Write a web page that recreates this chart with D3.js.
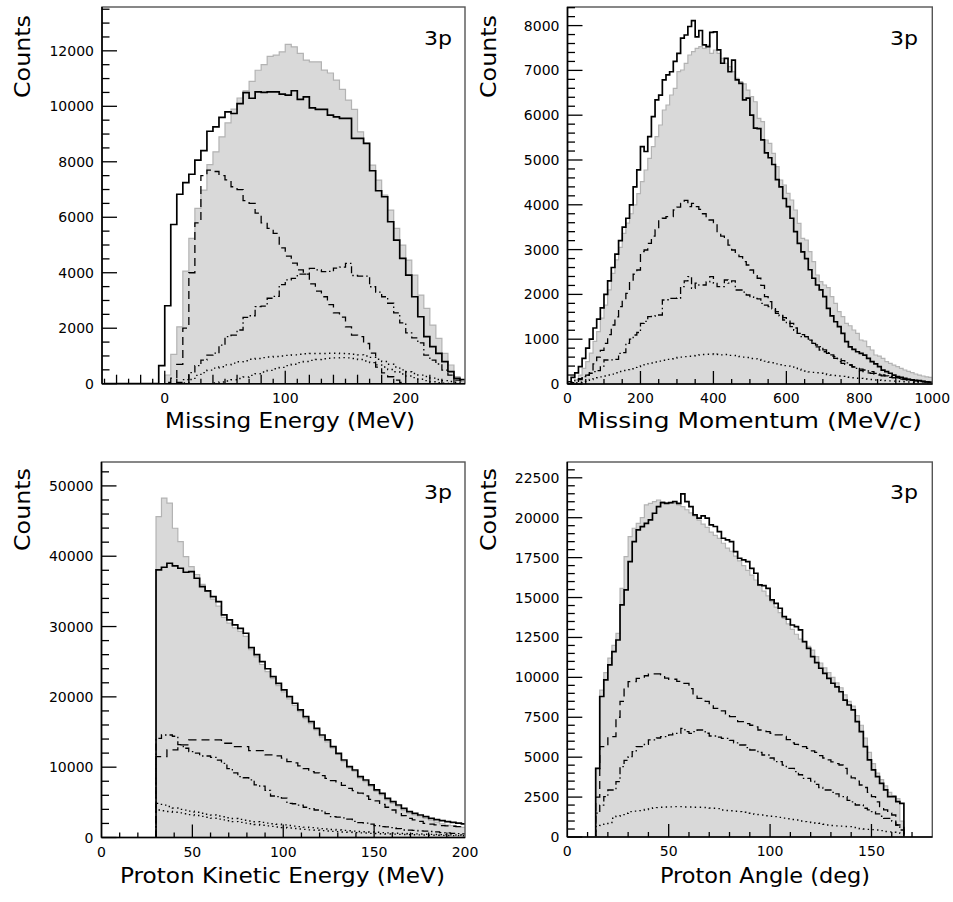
<!DOCTYPE html>
<html><head><meta charset="utf-8">
<script src="https://cdn.jsdelivr.net/npm/d3@7"></script>
<style>body{margin:0;background:#fff}svg{display:block}</style>
</head><body><svg id="c" width="953" height="902"></svg>
<script>
// ---------------- Panel 1: Missing Energy (MeV), bins of 5 from -50 ----------------
const p1Start = -50, p1Step = 5;
const p1Data = [0,0,0,0,0,0,0,0,0,0,
  313,1060,2050,4060,5240,6320,6980,7900,8360,8900,
  9400,9900,10300,10560,10900,11300,11500,11800,11845,11964,
  12230,12144,11906,11665,11604,11604,11304,11200,10944,10609,
  10223,9888,9081,8663,7881,7341,6800,6259,5600,4998,
  4458,3917,3196,2717,2115,1636,1095,674,252,72];
const p1Sim = [0,0,0,0,0,0,0,0,0,650,
  2810,5740,6830,7250,7550,8060,8400,9100,9260,9600,
  9800,9740,10100,10490,10290,10520,10500,10520,10523,10440,
  10404,10560,10248,10342,9946,9886,9886,9683,9622,9563,
  9563,8843,8843,8663,7676,6955,6739,5838,5178,4518,
  3917,3135,2414,1694,1333,1095,794,432,194,150];
const p1Dash = [0,0,0,0,0,0,0,0,0,0,
  50,200,700,2000,4000,5800,7500,7700,7650,7500,
  7350,7100,7000,6600,6500,6150,5800,5600,5420,4900,
  4600,4350,4100,3950,3600,3340,3135,2850,2550,2400,
  2050,1750,1700,1450,1100,600,390,250,130,50,
  0,0,0,0,0,0,0,0,0,0];
const p1DashDot = [0,0,0,0,0,0,0,0,0,0,
  0,0,50,150,400,650,850,1030,1100,1390,
  1700,1750,1935,2390,2450,2775,2800,3080,3150,3570,
  3740,3800,3950,3950,4160,4100,4040,4050,4170,4200,
  4340,3900,3880,3880,3495,3300,3135,2900,2550,2190,
  1830,1650,1470,1030,850,710,490,310,130,100];
const p1Dot = [0,0,0,0,0,0,0,0,0,0,
  0,0,0,30,150,300,400,490,560,610,
  680,740,790,830,880,910,940,960,980,1000,
  1020,1040,1060,1080,1090,1090,1090,1100,1100,1090,
  1080,1060,1040,1000,950,880,800,700,600,500,
  430,370,310,260,200,150,110,80,50,30];
const p1Dot2 = [0,0,0,0,0,0,0,0,0,0,
  0,0,0,0,0,0,0,0,30,60,
  100,140,190,240,300,360,420,480,540,590,
  650,700,760,800,840,870,900,920,930,940,
  930,910,870,820,760,680,600,510,430,350,
  280,220,160,110,70,40,20,0,0,0];
const p1YTicks = [0,2000,4000,6000,8000,10000,12000];
const p1XTicks = [0,100,200];

// ---------------- Panel 2: Missing Momentum (MeV/c), bins of 10 from 0 ----------------
const p2Start = 0, p2Step = 10;
const p2Data = [0,30,90,200,350,500,690,950,1170,1470,
  1760,2100,2470,2770,3050,3360,3590,3800,4000,4250,
  4516,4777,5037,5298,5521,5781,6116,6228,6451,6600,
  6972,7009,7158,7344,7418,7493,7530,7490,7567,7381,
  7455,7381,7269,7158,7083,6972,6823,6748,6700,6560,
  6413,6300,5930,5855,5446,5372,5149,4851,4554,4442,
  4256,4107,3884,3586,3252,3214,2954,2731,2433,2284,
  2210,2150,1949,1801,1615,1503,1354,1300,1205,1131,
  982,960,833,759,647,620,573,499,461,420,
  387,350,312,280,253,223,200,179,160,149];
const p2Sim = [50,150,250,390,570,800,1000,1250,1450,1700,
  2000,2300,2600,2900,3200,3500,3700,4000,4400,4780,
  5300,5190,5520,5970,6340,6450,6790,6900,6970,7200,
  7380,7720,7790,7980,8110,7750,7890,7570,7530,7850,
  7860,7460,7160,7270,6970,7230,6790,6710,6340,6380,
  6000,5710,5700,5450,5160,5050,4900,4560,4400,4140,
  3960,3700,3400,3140,2950,2800,2550,2360,2210,2100,
  1950,1690,1520,1390,1280,1130,945,830,775,720,
  685,645,570,500,450,390,310,275,240,200,
  165,150,125,105,90,80,75,60,50,40];
const p2Dash = [10,30,60,100,150,200,300,450,600,750,
  908,1100,1317,1500,1726,1880,2024,2321,2450,2545,
  2954,2991,3140,3300,3437,3661,3700,3735,3735,3884,
  3950,4033,4100,3958,4033,3958,3900,3800,3661,3661,
  3600,3363,3300,3214,3100,2991,2900,2842,2731,2656,
  2545,2420,2360,2200,1949,1838,1700,1577,1550,1481,
  1420,1354,1250,1131,1100,1057,980,908,830,759,
  720,685,620,573,500,461,440,424,380,350,
  300,275,250,238,220,201,180,164,150,140,
  126,110,100,89,80,70,60,50,40,30];
const p2DashDot = [0,40,80,120,164,200,240,275,300,400,
  536,536,540,550,685,700,908,1000,1094,1150,
  1354,1400,1503,1510,1540,1540,1875,1880,1912,1912,
  1920,2173,2300,2396,2135,2250,2210,2210,2280,2396,
  2247,2173,2173,2321,2250,2300,2098,2098,2050,1987,
  1950,1912,1900,1801,1760,1726,1680,1615,1520,1429,
  1350,1280,1200,1131,1057,1057,1000,908,870,833,
  760,699,650,610,560,521,470,424,390,350,
  330,312,290,275,238,220,201,180,164,150,
  140,126,110,100,89,80,70,60,50,40];
const p2Dot = [10,20,30,40,60,80,100,120,140,160,
  180,200,220,250,280,300,320,340,370,390,
  410,430,450,470,490,510,530,550,565,580,
  590,600,610,620,630,640,650,660,665,670,
  660,665,650,660,640,640,620,610,600,590,
  570,560,550,530,510,490,476,450,430,410,
  400,380,350,330,310,290,270,260,250,240,
  230,210,200,190,180,170,160,150,140,130,
  125,120,110,100,90,85,80,75,70,65,
  60,55,50,45,40,35,30,25,20,15];
const p2YTicks = [0,1000,2000,3000,4000,5000,6000,7000,8000];
const p2XTicks = [0,200,400,600,800,1000];

// ---------------- Panel 3: Proton Kinetic Energy (MeV), bins of 3 from 30 ----------------
const p3Start = 30, p3Step = 3;
const p3Data = [45630,48250,47540,43980,42080,39940,38520,37400,36000,35000,
  33900,32900,31300,30500,29800,29300,28600,26700,25700,24600,
  23600,22600,21600,20700,19700,18800,17900,16900,16200,15300,
  14300,13600,12700,11800,10800,9900,9400,8450,7950,7250,
  6550,6050,5350,4850,4400,3900,3450,3200,2950,2700,
  2450,2200,1950,1750,1700,1550,1450];
const p3Sim = [38050,38430,39000,38620,38290,37720,37810,36870,35680,35060,
  34250,33540,31650,30940,30230,29750,29050,27000,26000,25000,
  24000,22880,21930,20980,20030,19090,18140,17190,16480,15530,
  14580,13870,12920,11970,11020,10070,9600,8650,8180,7470,
  6760,6280,5570,5100,4620,4150,3670,3440,3200,2960,
  2730,2550,2400,2250,2150,2050,1950];
const p3Dash = [11500,11500,12450,12450,13160,13160,13870,13870,13870,13870,
  13870,13870,13400,13400,12920,12920,12920,12350,12350,12350,
  11740,11740,11600,11300,10790,10600,10200,9800,9370,9200,
  8800,8400,8090,7900,7400,7000,6660,6300,5900,5430,
  5200,4700,4300,3910,3500,3100,2730,2500,2300,2020,
  1900,1800,1700,1650,1600,1550,1500];
const p3DashDot = [14100,14580,14580,14400,13200,12690,12210,12000,11590,11590,
  11400,11000,10550,9800,9200,8650,8500,8200,7470,7300,
  6700,5900,5800,5600,4860,4800,4600,4300,4100,3910,
  3800,3400,2960,2900,2800,2600,2300,2110,2050,1900,
  1700,1540,1500,1400,1250,1070,1050,1000,950,900,
  850,800,690,650,600,560,520];
const p3Dot = [4860,4600,4400,4200,4000,3900,3750,3600,3450,3300,
  3200,3050,2950,2800,2700,2580,2450,2350,2250,2150,
  2050,1950,1880,1800,1700,1620,1550,1480,1400,1330,
  1260,1200,1130,1070,1010,960,910,860,820,780,
  740,700,660,630,600,570,540,510,490,470,
  450,430,410,390,370,350,330];
const p3Dot2 = [3910,3800,3700,3600,3500,3380,3250,3120,3000,2880,
  2750,2620,2500,2380,2260,2150,2050,1950,1850,1750,
  1660,1580,1500,1420,1350,1280,1210,1150,1090,1030,
  980,920,870,830,780,740,700,660,630,590,
  560,530,500,480,450,430,410,390,370,350,
  330,310,300,290,270,260,250];
const p3YTicks = [0,10000,20000,30000,40000,50000];
const p3XTicks = [0,50,100,150,200];

// ---------------- Panel 4: Proton Angle (deg), bins of 2 from 14 ----------------
const p4Start = 14, p4Step = 2;
const p4Data = [4300,9200,10300,11200,12000,12760,15580,17560,18820,19340,
  19650,20000,20800,20900,21010,21110,21000,20950,20900,20900,
  20800,20700,20500,20300,20100,19850,19600,19400,19100,18900,
  18700,18400,18100,17900,17600,17300,17000,16700,16400,16100,
  15750,15400,15100,14750,14400,14050,13700,13350,13000,12700,
  12400,12200,11950,11700,11300,10900,10600,10300,10000,9650,
  9350,8900,8500,8200,7600,7000,6200,5300,4600,4000,
  3600,3200,2800,2600,2400,1000];
const p4Sim = [4300,8800,9840,10780,11610,12340,14540,15480,17250,18500,
  19240,19440,19650,19860,20280,20700,20950,20900,20950,21010,
  20900,21490,21010,20700,20175,19970,20110,19970,19550,19450,
  19130,18715,18610,18500,17880,17460,17360,17250,16830,16520,
  15790,15750,15580,14850,14640,14330,13800,13640,13280,13180,
  12970,12240,11820,11300,10920,10570,10250,9940,9630,9400,
  9100,8580,8270,7960,7230,6600,5660,4830,4200,3780,
  3360,2950,2530,2530,2210,2110];
const p4Dash = [2500,5660,5660,6286,6290,7500,8500,9400,9733,9733,
  9940,9940,10100,10213,10213,10213,10150,9950,9880,9880,
  9750,9628,9628,9300,8900,8688,8688,8500,8300,8061,
  8061,7900,7700,7540,7540,7226,7226,7100,7000,6900,
  6704,6704,6600,6500,6391,6391,6300,6100,5900,5800,
  5700,5660,5550,5400,5300,5100,4950,4825,4700,4600,
  4511,4300,3885,3700,3500,3258,3100,2800,2527,2200,
  1900,1700,1500,1378,752,439];
const p4DashDot = [1500,2000,2527,2945,2945,3466,4406,4800,5033,5347,
  5660,5660,5800,6078,6078,6200,6286,6286,6400,6495,
  6495,6808,6600,6495,6600,6704,6704,6500,6328,6328,
  6250,6182,6182,6050,5900,5764,5764,5600,5451,5451,
  5300,5138,5138,4950,4720,4720,4500,4302,4302,4100,
  3900,3675,3675,3500,3300,3100,2945,2945,2800,2700,
  2527,2527,2300,2200,2005,2005,1800,1700,1587,1450,
  1300,1170,1170,1000,752,600];
const p4Dot = [650,720,800,900,1170,1300,1400,1485,1587,1620,
  1650,1690,1720,1800,1820,1840,1860,1880,1890,1900,
  1900,1900,1880,1880,1860,1860,1850,1840,1820,1800,
  1780,1690,1660,1640,1610,1587,1550,1485,1450,1420,
  1400,1378,1330,1300,1274,1230,1180,1140,1100,1065,
  1000,960,930,900,880,857,800,752,720,700,
  680,660,650,600,540,520,500,480,460,440,
  400,340,320,300,260,230];
const p4YTicks = [0,2500,5000,7500,10000,12500,15000,17500,20000,22500];
const p4XTicks = [0,50,100,150];

// ---------------- drawing ----------------
const svg = d3.select('#c');
svg.append('rect').attr('width',953).attr('height',902).attr('fill','#fff');
const FONT = "'DejaVu Sans', sans-serif";

const panels = [
  {id:1, x0:102, x1:465, sx0:104.5, sx1:466, y0:7, y1:383.7, xDomain:[-50,250], yMax:13580,
   start:p1Start, step:p1Step, data:p1Data, sim:p1Sim, dash:p1Dash, dashdot:p1DashDot, dots:[p1Dot,p1Dot2],
   yTicks:p1YTicks, yMinor:500, xTicks:p1XTicks, xMinor:10, xMid:20,
   title:'Missing Energy (MeV)', titleX:290, titleY:428, titleLen:250, countsX:30, countsY:15, tagX:424, tagY:45},
  {id:2, x0:567.5, x1:932.3, y0:7, y1:384, xDomain:[0,1000], yMax:8415,
   start:p2Start, step:p2Step, data:p2Data, sim:p2Sim, dash:p2Dash, dashdot:p2DashDot, dots:[p2Dot],
   yTicks:p2YTicks, yMinor:200, xTicks:p2XTicks, xMinor:50, xMid:200,
   title:'Missing Momentum (MeV/c)', titleX:749.5, titleY:428, titleLen:345, countsX:496, countsY:15, tagX:890, tagY:45},
  {id:3, x0:101.5, x1:465, y0:462, y1:837.5, xDomain:[0,200], yMax:53400,
   start:p3Start, step:p3Step, data:p3Data, sim:p3Sim, dash:p3Dash, dashdot:p3DashDot, dots:[p3Dot,p3Dot2],
   yTicks:p3YTicks, yMinor:2000, xTicks:p3XTicks, xMinor:10, xMid:50,
   title:'Proton Kinetic Energy (MeV)', titleX:282.5, titleY:883, titleLen:325, countsX:30, countsY:468, tagX:424, tagY:499},
  {id:4, x0:567.3, x1:932.3, y0:462, y1:837, xDomain:[0,180], yMax:23490,
   start:p4Start, step:p4Step, data:p4Data, sim:p4Sim, dash:p4Dash, dashdot:p4DashDot, dots:[p4Dot],
   yTicks:p4YTicks, yMinor:500, xTicks:p4XTicks, xMinor:10, xMid:50,
   title:'Proton Angle (deg)', titleX:765, titleY:883, titleLen:210, countsX:496, countsY:468, tagX:890, tagY:499}
];

panels.forEach(cfg => {
  const x = d3.scaleLinear().domain(cfg.xDomain).range([cfg.sx0 ?? cfg.x0, cfg.sx1 ?? cfg.x1]);
  const y = d3.scaleLinear().domain([0, cfg.yMax]).range([cfg.y1, cfg.y0]);
  const g = svg.append('g');
  const clipId = 'clip' + cfg.id;
  g.append('clipPath').attr('id', clipId).append('rect')
    .attr('x', cfg.x0).attr('y', cfg.y0).attr('width', cfg.x1 - cfg.x0).attr('height', cfg.y1 - cfg.y0);
  const plot = g.append('g').attr('clip-path', `url(#${clipId})`);

  const pts = vals => {
    const p = [[cfg.start, 0]];
    vals.forEach((v, i) => p.push([cfg.start + i * cfg.step, v]));
    const end = cfg.start + vals.length * cfg.step;
    p.push([end, vals[vals.length - 1]]);
    p.push([end, 0]);
    return p;
  };
  const line = d3.line().curve(d3.curveStepAfter).x(d => x(d[0])).y(d => y(d[1]));
  const area = d3.area().curve(d3.curveStepAfter).x(d => x(d[0])).y0(y(0)).y1(d => y(d[1]));

  plot.append('path').attr('d', area(pts(cfg.data))).attr('fill', '#d9d9d9');
  plot.append('path').attr('d', line(pts(cfg.data))).attr('fill', 'none').attr('stroke', '#b3b3b3').attr('stroke-width', 1.2);

  cfg.dots.forEach(arr => {
    plot.append('path').attr('d', line(pts(arr))).attr('fill', 'none').attr('stroke', '#000')
      .attr('stroke-width', 1.4).attr('stroke-dasharray', '1.4,3.6');
  });
  plot.append('path').attr('d', line(pts(cfg.dashdot))).attr('fill', 'none').attr('stroke', '#000')
    .attr('stroke-width', 1.3).attr('stroke-dasharray', '7,3,1.5,3');
  plot.append('path').attr('d', line(pts(cfg.dash))).attr('fill', 'none').attr('stroke', '#000')
    .attr('stroke-width', 1.3).attr('stroke-dasharray', '8,5');
  plot.append('path').attr('d', line(pts(cfg.sim))).attr('fill', 'none').attr('stroke', '#000')
    .attr('stroke-width', 1.7);

  // frame
  g.append('rect').attr('x', cfg.x0).attr('y', cfg.y0).attr('width', cfg.x1 - cfg.x0).attr('height', cfg.y1 - cfg.y0)
    .attr('fill', 'none').attr('stroke', '#555').attr('stroke-width', 1.4);
  g.append('line').attr('x1', cfg.x0).attr('x2', cfg.x0).attr('y1', cfg.y0).attr('y2', cfg.y1).attr('stroke', '#000').attr('stroke-width', 1.6);
  g.append('line').attr('x1', cfg.x0).attr('x2', cfg.x1).attr('y1', cfg.y1).attr('y2', cfg.y1).attr('stroke', '#000').attr('stroke-width', 1.6);

  // y ticks
  const yMajorStep = cfg.yTicks[1] - cfg.yTicks[0];
  d3.range(0, cfg.yMax + 1, cfg.yMinor).forEach(v => {
    const major = Math.abs(v / yMajorStep - Math.round(v / yMajorStep)) < 1e-6;
    g.append('line').attr('x1', cfg.x0).attr('x2', cfg.x0 + (major ? 15 : 7.5))
      .attr('y1', y(v)).attr('y2', y(v)).attr('stroke', '#000').attr('stroke-width', 1.3);
  });
  cfg.yTicks.forEach(v => {
    g.append('text').attr('x', cfg.x0 - 8).attr('y', y(v)).attr('dy', '0.36em')
      .attr('text-anchor', 'end').attr('font-family', FONT).attr('font-size', 14).text(v);
  });
  // x ticks
  const xMajorStep = cfg.xTicks[1] - cfg.xTicks[0];
  d3.range(cfg.xDomain[0], cfg.xDomain[1] + 0.001, cfg.xMinor).forEach(v => {
    const isMajor = Math.abs(v / xMajorStep - Math.round(v / xMajorStep)) < 1e-6;
    const isMid = Math.abs(v / cfg.xMid - Math.round(v / cfg.xMid)) < 1e-6;
    const len = isMajor ? 13 : (isMid ? 9 : 5);
    if (x(v) <= cfg.x0 + 1 || x(v) >= cfg.x1 - 1) return;
    g.append('line').attr('x1', x(v)).attr('x2', x(v)).attr('y1', cfg.y1).attr('y2', cfg.y1 - len)
      .attr('stroke', '#000').attr('stroke-width', 1.3);
  });
  cfg.xTicks.forEach(v => {
    g.append('text').attr('x', Math.min(x(v), cfg.x1)).attr('y', cfg.y1 + 19)
      .attr('text-anchor', 'middle').attr('font-family', FONT).attr('font-size', 14).text(v);
  });
  // titles
  g.append('text').attr('x', cfg.titleX).attr('y', cfg.titleY).attr('text-anchor', 'middle')
    .attr('font-family', FONT).attr('font-size', 21)
    .attr('textLength', cfg.titleLen).attr('lengthAdjust', 'spacingAndGlyphs').text(cfg.title);
  g.append('text').attr('transform', `translate(${cfg.countsX},${cfg.countsY}) rotate(-90)`)
    .attr('text-anchor', 'end').attr('font-family', FONT).attr('font-size', 21)
    .attr('textLength', 83).attr('lengthAdjust', 'spacingAndGlyphs').text('Counts');
  g.append('text').attr('x', cfg.tagX).attr('y', cfg.tagY).attr('font-family', FONT).attr('font-size', 20)
    .attr('textLength', 28).attr('lengthAdjust', 'spacingAndGlyphs').text('3p');
});
</script>
</body></html>
